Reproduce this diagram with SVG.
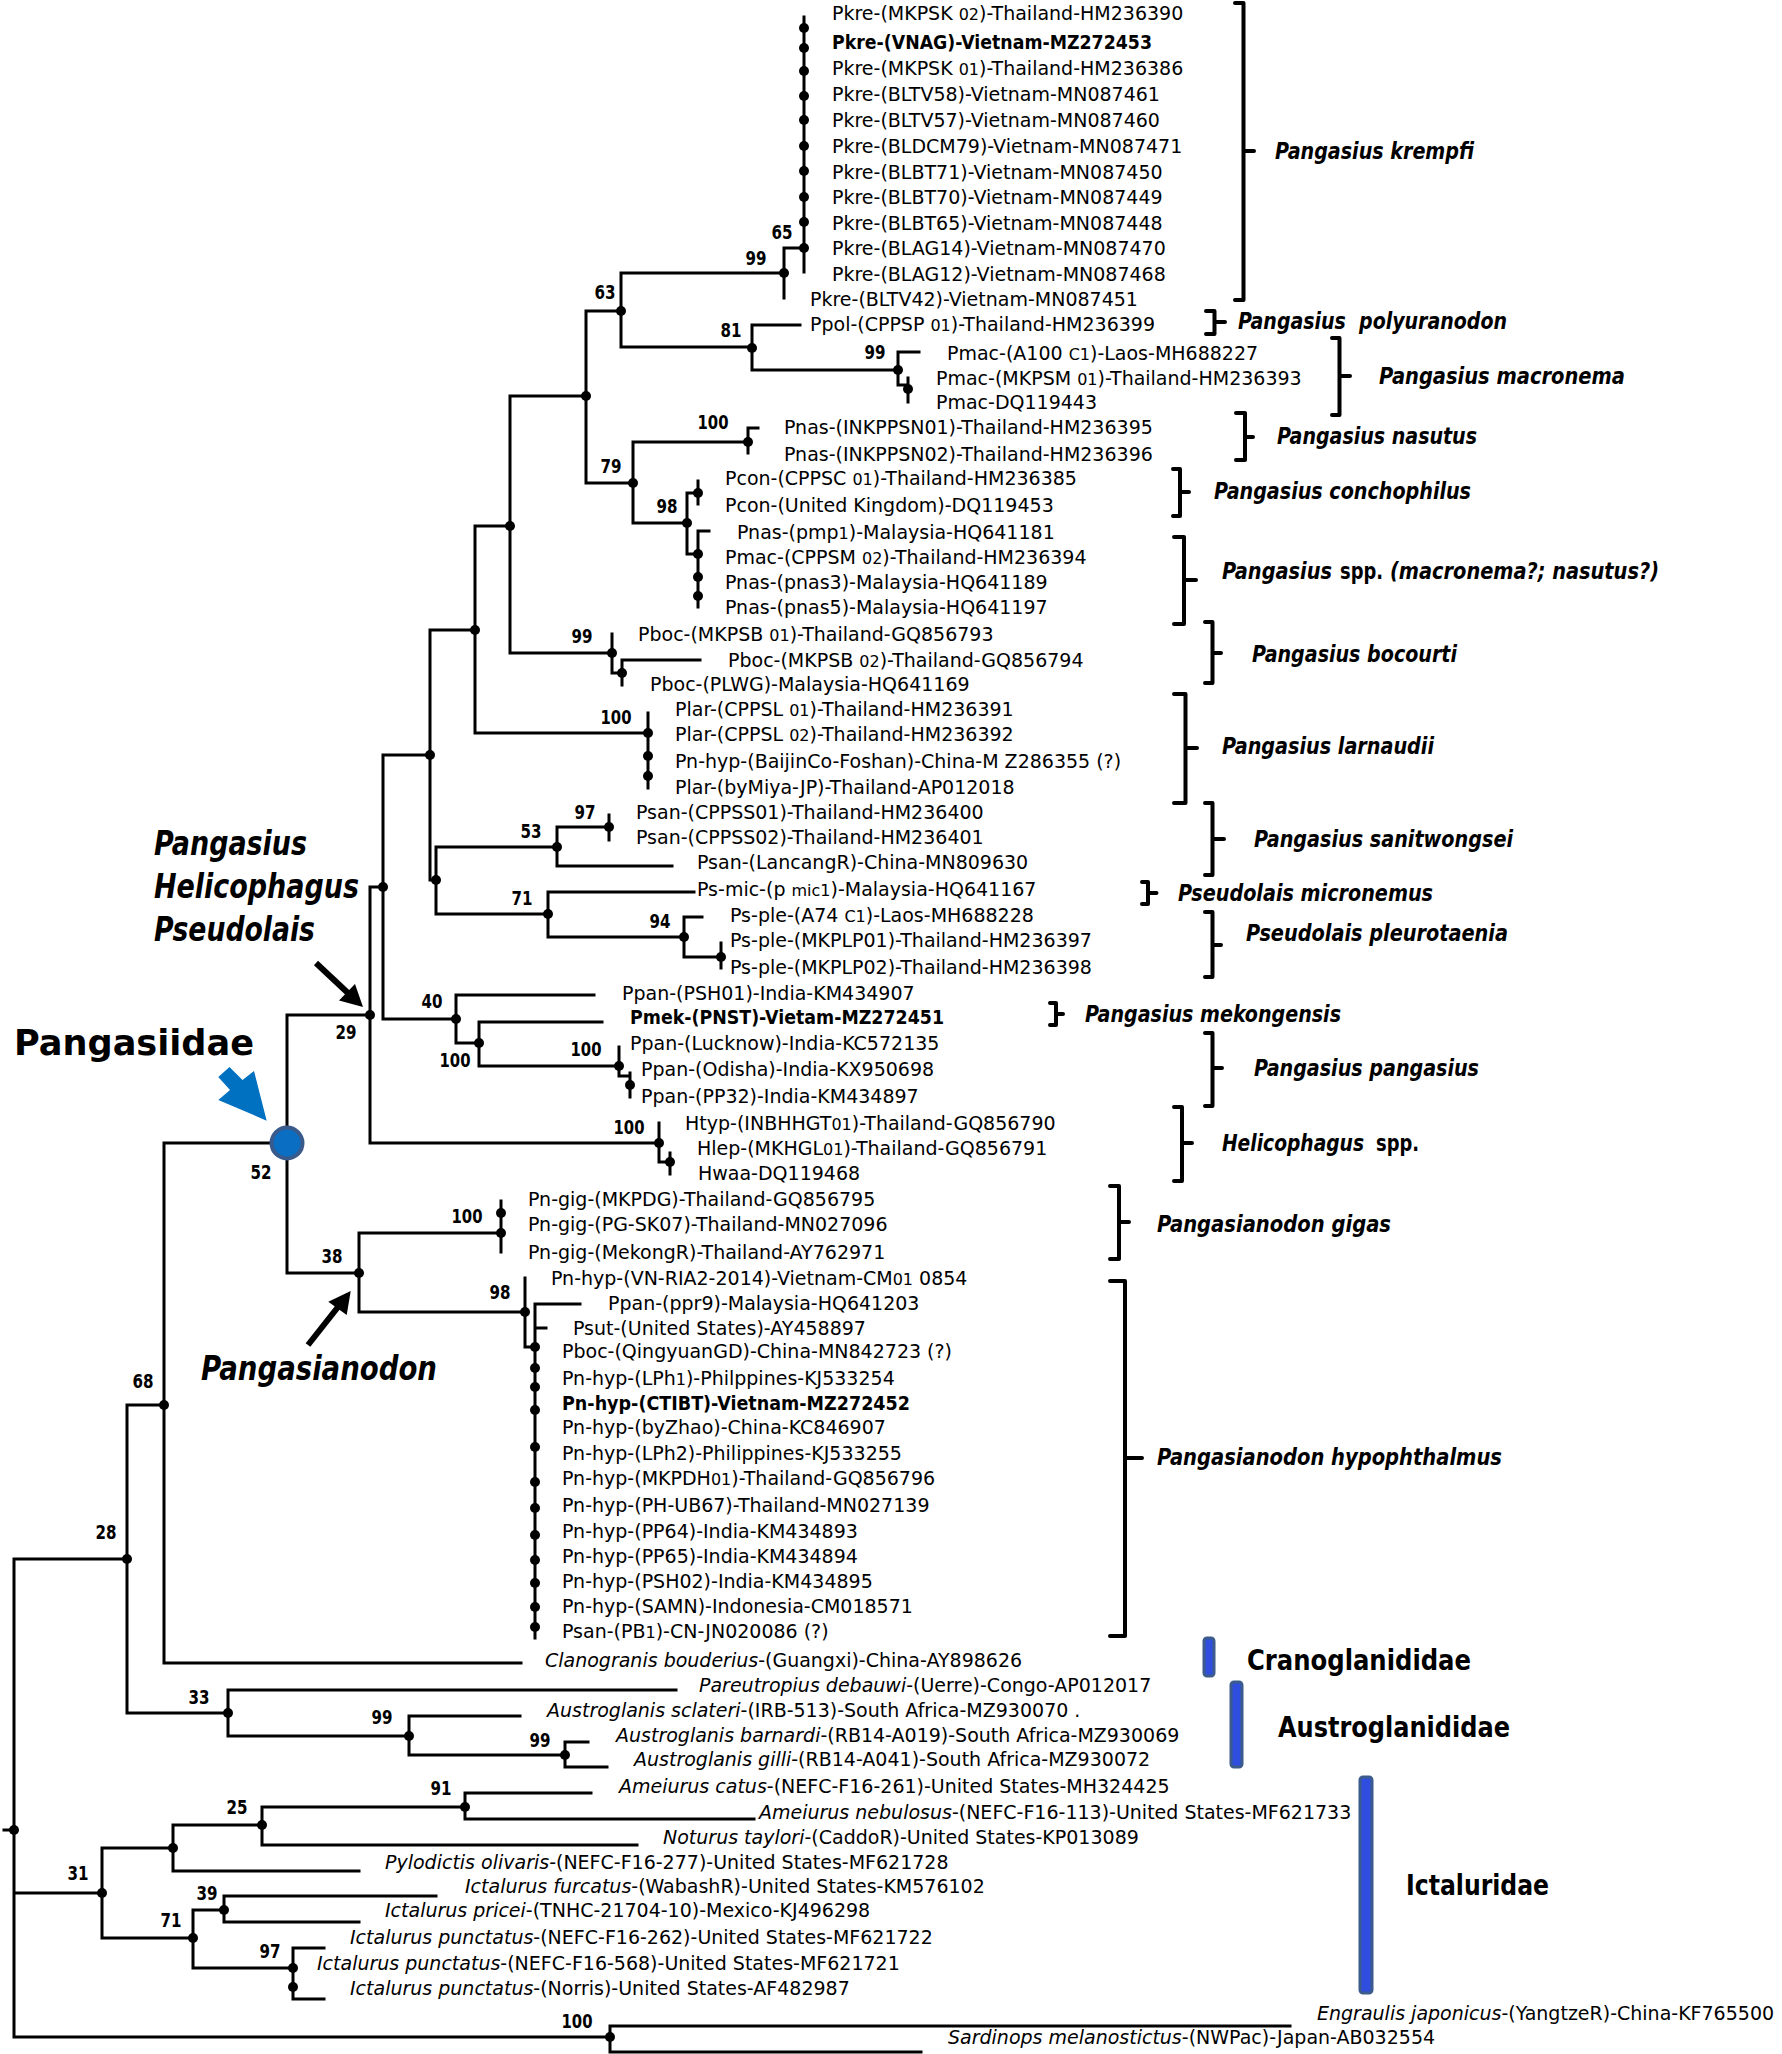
<svg xmlns="http://www.w3.org/2000/svg" width="1782" height="2054" viewBox="0 0 1782 2054">
<style>
.b{fill:none;stroke:#000;stroke-width:3;stroke-linecap:square}
.d{fill:#000}
.t{font-family:"DejaVu Sans","Liberation Sans",sans-serif;font-size:19px;fill:#000}
.tb{font-weight:bold}
.i{font-style:italic}
.s{font-size:16px}
.bs{font-family:"DejaVu Sans Condensed","DejaVu Sans","Liberation Sans",sans-serif;font-weight:bold;font-size:19px;fill:#000}
.sp{font-family:"DejaVu Sans Condensed","DejaVu Sans","Liberation Sans",sans-serif;font-weight:bold;font-style:italic;font-size:23px;fill:#000}
.n{font-style:normal}
.br{fill:none;stroke:#000;stroke-width:4;stroke-linejoin:round;stroke-linecap:round}
.fam{font-family:"DejaVu Sans Condensed","DejaVu Sans","Liberation Sans",sans-serif;font-weight:bold;font-size:29px;fill:#000}
.big{font-family:"DejaVu Sans","Liberation Sans",sans-serif;font-weight:bold;font-size:35px;fill:#000}
.gen{font-family:"DejaVu Sans Condensed","DejaVu Sans","Liberation Sans",sans-serif;font-weight:bold;font-style:italic;font-size:33px;fill:#000}
.bar{fill:#2f4ee0;stroke:#3b5b8c;stroke-width:3}
</style>

<g id="connectors" class="b">
<path d="M804 17V272M784 248H804M784 248V298"/>
<path d="M621 273V347M621 273H784M621 347H752"/>
<path d="M752 325V370M752 325H800M752 370H898"/>
<path d="M898 352V385M898 352H919M898 385H908M908 378V402"/>
<path d="M586 311V483M586 311H621M586 483H633"/>
<path d="M633 442V523M633 442H748M633 523H687"/>
<path d="M748 428V453M748 428H758"/>
<path d="M687 493V554M687 493H698M687 554H698M698 481V504M698 531V607M698 531H709"/>
<path d="M510 396V653M510 396H586M510 653H612"/>
<path d="M612 634V673M612 673H622M622 660V685M622 660H700"/>
<path d="M475 526V733M475 526H510M475 733H648M648 713V788"/>
<path d="M430 630V880M430 630H475M430 880H436"/>
<path d="M436 847V914M436 847H557M436 914H548"/>
<path d="M557 827V866M557 827H609M557 866H672M609 815V840"/>
<path d="M548 892V937M548 892H694M548 937H684"/>
<path d="M684 917V957M684 917H702M684 957H721M721 943V968"/>
<path d="M383 755V1019M383 755H430M383 1019H456"/>
<path d="M370 887V1143M370 887H383M370 1143H659"/>
<path d="M456 995V1043M456 995H594M456 1043H479"/>
<path d="M479 1022V1066M479 1022H602M479 1066H619"/>
<path d="M619 1047V1076M619 1076H630M630 1073V1097"/>
<path d="M659 1123V1162M659 1162H670M670 1153V1174"/>
<path d="M287 1015V1273M287 1015H370M287 1273H359"/>
<path d="M359 1233V1312M359 1233H501M359 1312H525M501 1201V1252"/>
<path d="M525 1278V1347M525 1347H535M535 1304V1638M535 1304H580M535 1328H546"/>
<path d="M164 1143V1663M164 1143H287M164 1663H521"/>
<path d="M127 1405V1713M127 1405H164M127 1713H228"/>
<path d="M228 1690V1736M228 1690H676M228 1736H409"/>
<path d="M409 1716V1755M409 1716H520M409 1755H565"/>
<path d="M565 1742V1767M565 1742H588M565 1767H607"/>
<path d="M14 1559V2037M14 1559H127M14 1893H102M14 2037H610M4 1830H14"/>
<path d="M102 1848V1938M102 1848H173M102 1938H193"/>
<path d="M173 1825V1871M173 1825H262M173 1871H359"/>
<path d="M262 1807V1845M262 1807H465M262 1845H637"/>
<path d="M465 1793V1819M465 1793H591M465 1819H754"/>
<path d="M193 1910V1968M193 1910H224M193 1968H293"/>
<path d="M224 1896V1922M224 1896H436M224 1922H359"/>
<path d="M293 1948V1999M293 1948H324M293 1999H324"/>
<path d="M610 2026V2052M610 2026H1290M610 2052H921"/>
</g>

<g id="nodes" class="d">
<g id="n-pkre-comb"><circle cx="804" cy="28" r="5"/><circle cx="804" cy="48" r="5"/><circle cx="804" cy="71" r="5"/><circle cx="804" cy="96" r="5"/><circle cx="804" cy="120" r="5"/><circle cx="804" cy="146" r="5"/><circle cx="804" cy="171" r="5"/><circle cx="804" cy="197" r="5"/><circle cx="804" cy="222" r="5"/></g>
<g id="n65"><circle cx="804" cy="248" r="5"/><text class="bs" x="771.5" y="239" textLength="21" lengthAdjust="spacingAndGlyphs">65</text></g>
<g id="n99a"><circle cx="784" cy="273" r="5"/><text class="bs" x="745.5" y="265" textLength="21" lengthAdjust="spacingAndGlyphs">99</text></g>
<g id="n63"><circle cx="621" cy="311" r="5"/><text class="bs" x="594.5" y="299" textLength="21" lengthAdjust="spacingAndGlyphs">63</text></g>
<g id="n81"><circle cx="752" cy="348" r="5"/><text class="bs" x="720.5" y="337" textLength="21" lengthAdjust="spacingAndGlyphs">81</text></g>
<g id="n99b"><circle cx="898" cy="370" r="5"/><circle cx="908" cy="389" r="5"/><text class="bs" x="864.5" y="359" textLength="21" lengthAdjust="spacingAndGlyphs">99</text></g>
<g id="nA"><circle cx="586" cy="396" r="5"/></g>
<g id="n79"><circle cx="633" cy="483" r="5"/><text class="bs" x="600.5" y="473" textLength="21" lengthAdjust="spacingAndGlyphs">79</text></g>
<g id="n100a"><circle cx="748" cy="442" r="5"/><text class="bs" x="697.5" y="429" textLength="31" lengthAdjust="spacingAndGlyphs">100</text></g>
<g id="n98a"><circle cx="687" cy="523" r="5"/><circle cx="698" cy="493" r="5"/><circle cx="698" cy="554" r="5"/><circle cx="698" cy="577" r="5"/><circle cx="698" cy="596" r="5"/><text class="bs" x="656.5" y="513" textLength="21" lengthAdjust="spacingAndGlyphs">98</text></g>
<g id="nB"><circle cx="510" cy="526" r="5"/></g>
<g id="n99c"><circle cx="612" cy="653" r="5"/><circle cx="622" cy="673" r="5"/><text class="bs" x="571.5" y="643" textLength="21" lengthAdjust="spacingAndGlyphs">99</text></g>
<g id="nC"><circle cx="475" cy="630" r="5"/></g>
<g id="n100b"><circle cx="648" cy="733" r="5"/><circle cx="648" cy="756" r="5"/><circle cx="648" cy="776" r="5"/><text class="bs" x="600.5" y="724" textLength="31" lengthAdjust="spacingAndGlyphs">100</text></g>
<g id="nD"><circle cx="430" cy="755" r="5"/></g>
<g id="nF"><circle cx="436" cy="880" r="5"/></g>
<g id="n53"><circle cx="557" cy="847" r="5"/><text class="bs" x="520.5" y="838" textLength="21" lengthAdjust="spacingAndGlyphs">53</text></g>
<g id="n97a"><circle cx="609" cy="827" r="5"/><text class="bs" x="574.5" y="819" textLength="21" lengthAdjust="spacingAndGlyphs">97</text></g>
<g id="n71a"><circle cx="548" cy="914" r="5"/><text class="bs" x="511.5" y="905" textLength="21" lengthAdjust="spacingAndGlyphs">71</text></g>
<g id="n94"><circle cx="684" cy="937" r="5"/><circle cx="721" cy="957" r="5"/><text class="bs" x="649.5" y="928" textLength="21" lengthAdjust="spacingAndGlyphs">94</text></g>
<g id="nE"><circle cx="383" cy="887" r="5"/></g>
<g id="n29"><circle cx="370" cy="1015" r="5"/><text class="bs" x="335.5" y="1039" textLength="21" lengthAdjust="spacingAndGlyphs">29</text></g>
<g id="n40"><circle cx="456" cy="1019" r="5"/><text class="bs" x="421.5" y="1008" textLength="21" lengthAdjust="spacingAndGlyphs">40</text></g>
<g id="n100c"><circle cx="479" cy="1043" r="5"/><text class="bs" x="439.5" y="1067" textLength="31" lengthAdjust="spacingAndGlyphs">100</text></g>
<g id="n100d"><circle cx="619" cy="1066" r="5"/><circle cx="630" cy="1085" r="5"/><text class="bs" x="570.5" y="1056" textLength="31" lengthAdjust="spacingAndGlyphs">100</text></g>
<g id="n100e"><circle cx="659" cy="1143" r="5"/><circle cx="670" cy="1162" r="5"/><text class="bs" x="613.5" y="1134" textLength="31" lengthAdjust="spacingAndGlyphs">100</text></g>
<g id="n52"><circle cx="287" cy="1143" r="15.5" fill="#0a6fc2" stroke="#3a5a8c" stroke-width="4"/><text class="bs" x="250.5" y="1179" textLength="21" lengthAdjust="spacingAndGlyphs">52</text></g>
<g id="n38"><circle cx="359" cy="1273" r="5"/><text class="bs" x="321.5" y="1263" textLength="21" lengthAdjust="spacingAndGlyphs">38</text></g>
<g id="n100f"><circle cx="501" cy="1213" r="5"/><circle cx="501" cy="1233" r="5"/><text class="bs" x="451.5" y="1223" textLength="31" lengthAdjust="spacingAndGlyphs">100</text></g>
<g id="n98b"><circle cx="525" cy="1312" r="5"/><text class="bs" x="489.5" y="1299" textLength="21" lengthAdjust="spacingAndGlyphs">98</text></g>
<g id="n-hyp-comb"><circle cx="535" cy="1347" r="5"/><circle cx="535" cy="1368" r="5"/><circle cx="535" cy="1387" r="5"/><circle cx="535" cy="1410" r="5"/><circle cx="535" cy="1447" r="5"/><circle cx="535" cy="1482" r="5"/><circle cx="535" cy="1508" r="5"/><circle cx="535" cy="1535" r="5"/><circle cx="535" cy="1560" r="5"/><circle cx="535" cy="1583" r="5"/><circle cx="535" cy="1607" r="5"/><circle cx="535" cy="1627" r="5"/></g>
<g id="n68"><circle cx="164" cy="1405" r="5"/><text class="bs" x="132.5" y="1388" textLength="21" lengthAdjust="spacingAndGlyphs">68</text></g>
<g id="n28"><circle cx="127" cy="1559" r="5"/><text class="bs" x="95.5" y="1539" textLength="21" lengthAdjust="spacingAndGlyphs">28</text></g>
<g id="n33"><circle cx="228" cy="1713" r="5"/><text class="bs" x="188.5" y="1704" textLength="21" lengthAdjust="spacingAndGlyphs">33</text></g>
<g id="n99d"><circle cx="409" cy="1736" r="5"/><text class="bs" x="371.5" y="1724" textLength="21" lengthAdjust="spacingAndGlyphs">99</text></g>
<g id="n99e"><circle cx="565" cy="1755" r="5"/><text class="bs" x="529.5" y="1747" textLength="21" lengthAdjust="spacingAndGlyphs">99</text></g>
<g id="nroot"><circle cx="14" cy="1830" r="5"/></g>
<g id="n31"><circle cx="102" cy="1893" r="5"/><text class="bs" x="67.5" y="1880" textLength="21" lengthAdjust="spacingAndGlyphs">31</text></g>
<g id="nG"><circle cx="173" cy="1848" r="5"/></g>
<g id="n25"><circle cx="262" cy="1825" r="5"/><text class="bs" x="226.5" y="1814" textLength="21" lengthAdjust="spacingAndGlyphs">25</text></g>
<g id="n91"><circle cx="465" cy="1807" r="5"/><text class="bs" x="430.5" y="1795" textLength="21" lengthAdjust="spacingAndGlyphs">91</text></g>
<g id="n71b"><circle cx="193" cy="1938" r="5"/><text class="bs" x="160.5" y="1927" textLength="21" lengthAdjust="spacingAndGlyphs">71</text></g>
<g id="n39"><circle cx="224" cy="1910" r="5"/><text class="bs" x="196.5" y="1900" textLength="21" lengthAdjust="spacingAndGlyphs">39</text></g>
<g id="n97b"><circle cx="293" cy="1968" r="5"/><circle cx="293" cy="1987" r="5"/><text class="bs" x="259.5" y="1958" textLength="21" lengthAdjust="spacingAndGlyphs">97</text></g>
<g id="n100g"><circle cx="610" cy="2037" r="5"/><text class="bs" x="561.5" y="2028" textLength="31" lengthAdjust="spacingAndGlyphs">100</text></g>
</g>

<g id="leaves" class="t">
<g id="leaf01"><text x="832" y="20">Pkre-(MKPSK <tspan class="s">02</tspan>)-Thailand-HM236390</text></g>
<g id="leaf02"><text class="tb" x="832" y="49" textLength="320" lengthAdjust="spacingAndGlyphs">Pkre-(VNAG)-Vietnam-MZ272453</text></g>
<g id="leaf03"><text x="832" y="75">Pkre-(MKPSK <tspan class="s">01</tspan>)-Thailand-HM236386</text></g>
<g id="leaf04"><text x="832" y="101">Pkre-(BLTV58)-Vietnam-MN087461</text></g>
<g id="leaf05"><text x="832" y="127">Pkre-(BLTV57)-Vietnam-MN087460</text></g>
<g id="leaf06"><text x="832" y="153">Pkre-(BLDCM79)-Vietnam-MN087471</text></g>
<g id="leaf07"><text x="832" y="179">Pkre-(BLBT71)-Vietnam-MN087450</text></g>
<g id="leaf08"><text x="832" y="204">Pkre-(BLBT70)-Vietnam-MN087449</text></g>
<g id="leaf09"><text x="832" y="230">Pkre-(BLBT65)-Vietnam-MN087448</text></g>
<g id="leaf10"><text x="832" y="255">Pkre-(BLAG14)-Vietnam-MN087470</text></g>
<g id="leaf11"><text x="832" y="281">Pkre-(BLAG12)-Vietnam-MN087468</text></g>
<g id="leaf12"><text x="810" y="306">Pkre-(BLTV42)-Vietnam-MN087451</text></g>
<g id="leaf13"><text x="810" y="331">Ppol-(CPPSP <tspan class="s">01</tspan>)-Thailand-HM236399</text></g>
<g id="leaf14"><text x="947" y="360">Pmac-(A100 <tspan class="s">C1</tspan>)-Laos-MH688227</text></g>
<g id="leaf15"><text x="936" y="385">Pmac-(MKPSM <tspan class="s">01</tspan>)-Thailand-HM236393</text></g>
<g id="leaf16"><text x="936" y="409">Pmac-DQ119443</text></g>
<g id="leaf17"><text x="784" y="434">Pnas-(INKPPSN01)-Thailand-HM236395</text></g>
<g id="leaf18"><text x="784" y="461">Pnas-(INKPPSN02)-Thailand-HM236396</text></g>
<g id="leaf19"><text x="725" y="485">Pcon-(CPPSC <tspan class="s">01</tspan>)-Thailand-HM236385</text></g>
<g id="leaf20"><text x="725" y="512">Pcon-(United Kingdom)-DQ119453</text></g>
<g id="leaf21"><text x="737" y="539">Pnas-(pmp<tspan class="s">1</tspan>)-Malaysia-HQ641181</text></g>
<g id="leaf22"><text x="725" y="564">Pmac-(CPPSM <tspan class="s">02</tspan>)-Thailand-HM236394</text></g>
<g id="leaf23"><text x="725" y="589">Pnas-(pnas3)-Malaysia-HQ641189</text></g>
<g id="leaf24"><text x="725" y="614">Pnas-(pnas5)-Malaysia-HQ641197</text></g>
<g id="leaf25"><text x="638" y="641">Pboc-(MKPSB <tspan class="s">01</tspan>)-Thailand-GQ856793</text></g>
<g id="leaf26"><text x="728" y="667">Pboc-(MKPSB <tspan class="s">02</tspan>)-Thailand-GQ856794</text></g>
<g id="leaf27"><text x="650" y="691">Pboc-(PLWG)-Malaysia-HQ641169</text></g>
<g id="leaf28"><text x="675" y="716">Plar-(CPPSL <tspan class="s">01</tspan>)-Thailand-HM236391</text></g>
<g id="leaf29"><text x="675" y="741">Plar-(CPPSL <tspan class="s">02</tspan>)-Thailand-HM236392</text></g>
<g id="leaf30"><text x="675" y="768">Pn-hyp-(BaijinCo-Foshan)-China-M Z286355 (?)</text></g>
<g id="leaf31"><text x="675" y="794">Plar-(byMiya-JP)-Thailand-AP012018</text></g>
<g id="leaf32"><text x="636" y="819">Psan-(CPPSS01)-Thailand-HM236400</text></g>
<g id="leaf33"><text x="636" y="844">Psan-(CPPSS02)-Thailand-HM236401</text></g>
<g id="leaf34"><text x="697" y="869">Psan-(LancangR)-China-MN809630</text></g>
<g id="leaf35"><text x="697" y="896">Ps-mic-(p <tspan class="s">mic1</tspan>)-Malaysia-HQ641167</text></g>
<g id="leaf36"><text x="730" y="922">Ps-ple-(A74 <tspan class="s">C1</tspan>)-Laos-MH688228</text></g>
<g id="leaf37"><text x="730" y="947">Ps-ple-(MKPLP01)-Thailand-HM236397</text></g>
<g id="leaf38"><text x="730" y="974">Ps-ple-(MKPLP02)-Thailand-HM236398</text></g>
<g id="leaf39"><text x="622" y="1000">Ppan-(PSH01)-India-KM434907</text></g>
<g id="leaf40"><text class="tb" x="630" y="1024" textLength="314" lengthAdjust="spacingAndGlyphs">Pmek-(PNST)-Vietam-MZ272451</text></g>
<g id="leaf41"><text x="630" y="1050">Ppan-(Lucknow)-India-KC572135</text></g>
<g id="leaf42"><text x="641" y="1076">Ppan-(Odisha)-India-KX950698</text></g>
<g id="leaf43"><text x="641" y="1103">Ppan-(PP32)-India-KM434897</text></g>
<g id="leaf44"><text x="685" y="1130">Htyp-(INBHHGT<tspan class="s">01</tspan>)-Thailand-GQ856790</text></g>
<g id="leaf45"><text x="697" y="1155">Hlep-(MKHGL<tspan class="s">01</tspan>)-Thailand-GQ856791</text></g>
<g id="leaf46"><text x="698" y="1180">Hwaa-DQ119468</text></g>
<g id="leaf47"><text x="528" y="1206">Pn-gig-(MKPDG)-Thailand-GQ856795</text></g>
<g id="leaf48"><text x="528" y="1231">Pn-gig-(PG-SK07)-Thailand-MN027096</text></g>
<g id="leaf49"><text x="528" y="1259">Pn-gig-(MekongR)-Thailand-AY762971</text></g>
<g id="leaf50"><text x="551" y="1285">Pn-hyp-(VN-RIA2-2014)-Vietnam-CM<tspan class="s">01</tspan> 0854</text></g>
<g id="leaf51"><text x="608" y="1310">Ppan-(ppr9)-Malaysia-HQ641203</text></g>
<g id="leaf52"><text x="573" y="1335">Psut-(United States)-AY458897</text></g>
<g id="leaf53"><text x="562" y="1358">Pboc-(QingyuanGD)-China-MN842723 (?)</text></g>
<g id="leaf54"><text x="562" y="1385">Pn-hyp-(LPh<tspan class="s">1</tspan>)-Philppines-KJ533254</text></g>
<g id="leaf55"><text class="tb" x="562" y="1410" textLength="348" lengthAdjust="spacingAndGlyphs">Pn-hyp-(CTIBT)-Vietnam-MZ272452</text></g>
<g id="leaf56"><text x="562" y="1434">Pn-hyp-(byZhao)-China-KC846907</text></g>
<g id="leaf57"><text x="562" y="1460">Pn-hyp-(LPh2)-Philippines-KJ533255</text></g>
<g id="leaf58"><text x="562" y="1485">Pn-hyp-(MKPDH<tspan class="s">01</tspan>)-Thailand-GQ856796</text></g>
<g id="leaf59"><text x="562" y="1512">Pn-hyp-(PH-UB67)-Thailand-MN027139</text></g>
<g id="leaf60"><text x="562" y="1538">Pn-hyp-(PP64)-India-KM434893</text></g>
<g id="leaf61"><text x="562" y="1563">Pn-hyp-(PP65)-India-KM434894</text></g>
<g id="leaf62"><text x="562" y="1588">Pn-hyp-(PSH02)-India-KM434895</text></g>
<g id="leaf63"><text x="562" y="1613">Pn-hyp-(SAMN)-Indonesia-CM018571</text></g>
<g id="leaf64"><text x="562" y="1638">Psan-(PB<tspan class="s">1</tspan>)-CN-JN020086 (?)</text></g>
<g id="leaf65"><text x="545" y="1667"><tspan class="i">Clanogranis bouderius</tspan>-(Guangxi)-China-AY898626</text></g>
<g id="leaf66"><text x="699" y="1692"><tspan class="i">Pareutropius debauwi</tspan>-(Uerre)-Congo-AP012017</text></g>
<g id="leaf67"><text x="547" y="1717"><tspan class="i">Austroglanis sclateri</tspan>-(IRB-513)-South Africa-MZ930070 .</text></g>
<g id="leaf68"><text x="616" y="1742"><tspan class="i">Austroglanis barnardi</tspan>-(RB14-A019)-South Africa-MZ930069</text></g>
<g id="leaf69"><text x="634" y="1766"><tspan class="i">Austroglanis gilli</tspan>-(RB14-A041)-South Africa-MZ930072</text></g>
<g id="leaf70"><text x="619" y="1793"><tspan class="i">Ameiurus catus</tspan>-(NEFC-F16-261)-United States-MH324425</text></g>
<g id="leaf71"><text x="759" y="1819"><tspan class="i">Ameiurus nebulosus</tspan>-(NEFC-F16-113)-United States-MF621733</text></g>
<g id="leaf72"><text x="663" y="1844"><tspan class="i">Noturus taylori</tspan>-(CaddoR)-United States-KP013089</text></g>
<g id="leaf73"><text x="385" y="1869"><tspan class="i">Pylodictis olivaris</tspan>-(NEFC-F16-277)-United States-MF621728</text></g>
<g id="leaf74"><text x="465" y="1893"><tspan class="i">Ictalurus furcatus</tspan>-(WabashR)-United States-KM576102</text></g>
<g id="leaf75"><text x="385" y="1917"><tspan class="i">Ictalurus pricei</tspan>-(TNHC-21704-10)-Mexico-KJ496298</text></g>
<g id="leaf76"><text x="350" y="1944"><tspan class="i">Ictalurus punctatus</tspan>-(NEFC-F16-262)-United States-MF621722</text></g>
<g id="leaf77"><text x="317" y="1970"><tspan class="i">Ictalurus punctatus</tspan>-(NEFC-F16-568)-United States-MF621721</text></g>
<g id="leaf78"><text x="350" y="1995"><tspan class="i">Ictalurus punctatus</tspan>-(Norris)-United States-AF482987</text></g>
<g id="leaf79"><text x="1317" y="2020"><tspan class="i">Engraulis japonicus</tspan>-(YangtzeR)-China-KF765500</text></g>
<g id="leaf80"><text x="948" y="2044"><tspan class="i">Sardinops melanostictus</tspan>-(NWPac)-Japan-AB032554</text></g>
</g>

<g id="species">
<g id="sp-krempfi"><path class="br" d="M1235 3H1243.5V300H1235M1243.5 151H1254"/><text class="sp" x="1275" y="159" textLength="199" lengthAdjust="spacingAndGlyphs">Pangasius krempfi</text></g>
<g id="sp-polyuranodon"><path class="br" d="M1206 311H1214.5V334H1206M1214.5 322H1225"/><text class="sp" x="1238" y="329" textLength="269" lengthAdjust="spacingAndGlyphs">Pangasius&#160; polyuranodon</text></g>
<g id="sp-macronema"><path class="br" d="M1332 338H1339.5V415H1332M1339.5 376H1350"/><text class="sp" x="1379" y="384" textLength="246" lengthAdjust="spacingAndGlyphs">Pangasius macronema</text></g>
<g id="sp-nasutus"><path class="br" d="M1236 413H1245V460H1236M1245 437H1253"/><text class="sp" x="1277" y="444" textLength="200" lengthAdjust="spacingAndGlyphs">Pangasius nasutus</text></g>
<g id="sp-conchophilus"><path class="br" d="M1173 469H1180V516H1173M1180 492H1189"/><text class="sp" x="1214" y="499" textLength="257" lengthAdjust="spacingAndGlyphs">Pangasius conchophilus</text></g>
<g id="sp-spp"><path class="br" d="M1174 537H1184V624H1174M1184 580H1196"/><text class="sp" x="1222" y="579" textLength="110" lengthAdjust="spacingAndGlyphs">Pangasius</text><text class="sp n" x="1340" y="579" textLength="43" lengthAdjust="spacingAndGlyphs">spp.</text><text class="sp" x="1390" y="579" textLength="269" lengthAdjust="spacingAndGlyphs">(macronema?; nasutus?)</text></g>
<g id="sp-bocourti"><path class="br" d="M1205 622H1212.5V683H1205M1212.5 653H1221"/><text class="sp" x="1252" y="662" textLength="205" lengthAdjust="spacingAndGlyphs">Pangasius bocourti</text></g>
<g id="sp-larnaudii"><path class="br" d="M1174 694H1185.5V803H1174M1185.5 748H1197"/><text class="sp" x="1222" y="754" textLength="212" lengthAdjust="spacingAndGlyphs">Pangasius larnaudii</text></g>
<g id="sp-sanitwongsei"><path class="br" d="M1205 803H1212.5V875H1205M1212.5 839H1224"/><text class="sp" x="1254" y="847" textLength="259" lengthAdjust="spacingAndGlyphs">Pangasius sanitwongsei</text></g>
<g id="sp-micronemus"><path class="br" d="M1142 882H1148V904H1142M1148 893H1156.5"/><text class="sp" x="1178" y="901" textLength="255" lengthAdjust="spacingAndGlyphs">Pseudolais micronemus</text></g>
<g id="sp-pleurotaenia"><path class="br" d="M1205 912H1212.5V977H1205M1212.5 945H1221"/><text class="sp" x="1246" y="941" textLength="262" lengthAdjust="spacingAndGlyphs">Pseudolais pleurotaenia</text></g>
<g id="sp-mekongensis"><path class="br" d="M1050 1003H1056V1025H1050M1056 1014H1063"/><text class="sp" x="1085" y="1022" textLength="256" lengthAdjust="spacingAndGlyphs">Pangasius mekongensis</text></g>
<g id="sp-pangasius"><path class="br" d="M1205 1033H1212.5V1106H1205M1212.5 1068H1222"/><text class="sp" x="1254" y="1076" textLength="225" lengthAdjust="spacingAndGlyphs">Pangasius pangasius</text></g>
<g id="sp-helicophagus"><path class="br" d="M1174 1107H1182V1181H1174M1182 1143H1192"/><text class="sp" x="1222" y="1151" textLength="142" lengthAdjust="spacingAndGlyphs">Helicophagus</text><text class="sp n" x="1376" y="1151" textLength="43" lengthAdjust="spacingAndGlyphs">spp.</text></g>
<g id="sp-gigas"><path class="br" d="M1110 1186H1119V1259H1110M1119 1222H1129"/><text class="sp" x="1157" y="1232" textLength="234" lengthAdjust="spacingAndGlyphs">Pangasianodon gigas</text></g>
<g id="sp-hypophthalmus"><path class="br" d="M1110 1281H1125V1636H1110M1125 1458H1142"/><text class="sp" x="1157" y="1465" textLength="345" lengthAdjust="spacingAndGlyphs">Pangasianodon hypophthalmus</text></g>
</g>

<g id="families">
<g id="fam-crano"><rect class="bar" x="1204" y="1638" width="10" height="38" rx="3"/><text class="fam" x="1247" y="1670" textLength="224" lengthAdjust="spacingAndGlyphs">Cranoglanididae</text></g>
<g id="fam-austro"><rect class="bar" x="1231" y="1682" width="11" height="85" rx="3"/><text class="fam" x="1278" y="1737" textLength="232" lengthAdjust="spacingAndGlyphs">Austroglanididae</text></g>
<g id="fam-ictal"><rect class="bar" x="1360" y="1777" width="12" height="216" rx="3"/><text class="fam" x="1406" y="1895" textLength="143" lengthAdjust="spacingAndGlyphs">Ictaluridae</text></g>
</g>

<g id="annotations">
<g id="lbl-pangasiidae"><text class="big" x="14" y="1055" textLength="240" lengthAdjust="spacingAndGlyphs">Pangasiidae</text>
<polygon fill="#0070c0" points="229.5,1067 242.5,1080 254,1071 266.7,1120.7 218.3,1100 230,1090 218.3,1077"/></g>
<g id="lbl-php"><text class="gen" x="154" y="855" textLength="153" lengthAdjust="spacingAndGlyphs">Pangasius</text><text class="gen" x="154" y="898" textLength="205" lengthAdjust="spacingAndGlyphs">Helicophagus</text><text class="gen" x="154" y="941" textLength="161" lengthAdjust="spacingAndGlyphs">Pseudolais</text>
<path d="M316 963L349 994" stroke="#000" stroke-width="6" fill="none"/><polygon fill="#000" points="363,1007 339,1000.5 355,984"/></g>
<g id="lbl-pangasianodon"><text class="gen" x="201" y="1380" textLength="236" lengthAdjust="spacingAndGlyphs">Pangasianodon</text>
<path d="M308 1345L338 1307" stroke="#000" stroke-width="6" fill="none"/><polygon fill="#000" points="350.7,1291 346.7,1315 328.3,1301.7"/></g>
</g>
</svg>
